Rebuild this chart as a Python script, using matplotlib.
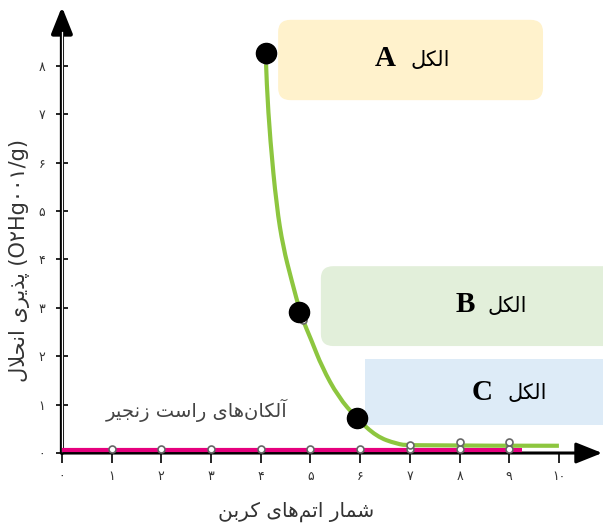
import matplotlib
matplotlib.use("Agg")
import matplotlib.pyplot as plt
from matplotlib.patches import FancyBboxPatch, PathPatch
from matplotlib.path import Path

plt.rcParams['font.family'] = ['DejaVu Sans']

# Persian text kept in presentation forms, visual (left-to-right) order
alcohol_word = "\uFEDE\uFB91\uFEDF\uFE8D"                      # الکل
alkane_label = ("\uFEAE\uFBFF\uFEA0\uFEE7\uFEAF" + " " +        # زنجیر
                "\uFE96\uFEB3\uFE8D\uFEAD" + " " +              # راست
                "\uFBFC\uFE8E\uFEEB\uFEE5\uFE8E\uFB91\uFEDF\uFE81")  # آلکان‌های
x_title = ("\uFEE6\uFE91\uFEAE\uFB90" + " " +                   # کربن
           "\uFBFC\uFE8E\uFEEB\uFEE2\uFE97\uFE8D" + " " +       # اتم‌های
           "\uFEAD\uFE8E\uFEE4\uFEB7")                          # شمار
y_title = ("\uFEDD\uFEFC\uFEA4\uFEE7\uFE8D" + " " +             # انحلال
           "\uFBFC\uFEAE\uFBFE\uFEAC\uFB58" + " " +             # پذیری
           "(O\u06F2Hg\u06F0\u06F0\u06F1/g)")

x_ticks = list(range(11))
x_tick_labels = ["\u06F0", "\u06F1", "\u06F2", "\u06F3", "\u06F4", "\u06F5",
                 "\u06F6", "\u06F7", "\u06F8", "\u06F9", "\u06F1\u06F0"]
y_ticks = list(range(9))
y_tick_labels = x_tick_labels[:9]

# straight chain alkanes (all near zero)
alkane_x = [1, 2, 3, 4, 5, 6, 7, 8, 9]
alkane_y = [0.08, 0.08, 0.08, 0.08, 0.08, 0.08, 0.08, 0.08, 0.08]
alkane_line_x = [0, 9.26]
alkane_line_y = [0.07, 0.07]

# alcohol data points (small open circles)
alcohol_x = [4.1, 4.85, 5.95, 7, 8, 9]
alcohol_y = [8.12, 2.75, 0.6, 0.17, 0.23, 0.23]

# green curve, read along its path
curve_x = [4.10, 4.12, 4.19, 4.32, 4.45, 4.62, 4.82, 5.02, 5.23, 5.56, 5.93, 6.33, 6.73, 7.0, 10.0]
curve_y = [8.22, 7.60, 6.47, 5.09, 4.26, 3.57, 2.81, 2.33, 1.78, 1.16, 0.72, 0.34, 0.19, 0.15, 0.15]

# highlighted alcohols A, B, C
marked_x = [4.11, 4.77, 5.94]
marked_y = [8.26, 2.92, 0.72]
marked_names = ["A", "B", "C"]

# label boxes
box_x0 = [4.35, 5.21, 6.10]
box_x1 = [9.68, 11.2, 11.2]
box_y0 = [7.29, 2.21, 0.58]
box_y1 = [8.95, 3.86, 1.94]
box_colors = ["#FFF2CC", "#E2EFDA", "#DDEBF7"]
box_round = [0.25, 0.25, 0.0]
letter_pos = [(6.5, 8.16), (8.11, 3.06), (8.45, 1.26)]
word_pos = [(7.41, 8.12), (8.97, 3.04), (9.36, 1.24)]


def smooth_path(xs, ys):
    # quadratic B-spline through the read points, drawn by matplotlib's Path
    pts = list(zip(xs, ys))
    verts = [pts[0]]
    codes = [Path.MOVETO]
    for i in range(1, len(pts) - 1):
        nxt = pts[i + 1] if i + 1 == len(pts) - 1 else (
            (pts[i][0] + pts[i + 1][0]) / 2, (pts[i][1] + pts[i + 1][1]) / 2)
        verts += [pts[i], nxt]
        codes += [Path.CURVE3, Path.CURVE3]
    return Path(verts, codes)


fig = plt.figure(figsize=(6.03, 5.27), dpi=100)
ax = fig.add_axes([52 / 603, (527 - 458) / 527, (603 - 52) / 603, (458 - 5) / 527])
ax.set_xlim(-0.2, 10.887)
ax.set_ylim(-0.103, 9.256)

for sp in ["top", "right"]:
    ax.spines[sp].set_visible(False)
for sp in ["left", "bottom"]:
    ax.spines[sp].set_position(("data", 0))
    ax.spines[sp].set_color("none")

for i in range(3):
    r = box_round[i]
    style = "round,pad=0,rounding_size=%g" % r if r > 0 else "square,pad=0"
    ax.add_patch(FancyBboxPatch((box_x0[i], box_y0[i]), box_x1[i] - box_x0[i],
                                box_y1[i] - box_y0[i], boxstyle=style,
                                facecolor=box_colors[i], edgecolor="none", zorder=1))
    ax.text(letter_pos[i][0], letter_pos[i][1], marked_names[i], family="Liberation Serif",
            fontweight="bold", fontsize=21, ha="center", va="center", zorder=3)
    ax.text(word_pos[i][0], word_pos[i][1], alcohol_word, fontsize=15,
            ha="center", va="center", zorder=3)

# axes with arrows
ax.annotate("", xy=(10.87, 0), xytext=(0, 0),
            arrowprops=dict(arrowstyle="-|>,head_length=1.0,head_width=0.4",
                            color="black", lw=2.2, mutation_scale=16,
                            shrinkA=0, shrinkB=0), zorder=4)
ax.annotate("", xy=(0, 9.22), xytext=(0, 0),
            arrowprops=dict(arrowstyle="-|>,head_length=1.0,head_width=0.4",
                            color="black", lw=3.0, mutation_scale=16,
                            shrinkA=0, shrinkB=0), zorder=4)
ax.plot([0, 0], [0.05, 8.7], color="white", lw=0.9, zorder=5)

ax.plot(alkane_line_x, alkane_line_y, color="#E6007E", lw=3.0, zorder=5,
        solid_capstyle="butt")
ax.add_patch(PathPatch(smooth_path(curve_x, curve_y), facecolor="none",
                       edgecolor="#8DC63F", lw=3.0, capstyle="butt", zorder=5))
ax.plot(alkane_x, alkane_y, "o", ms=5, mfc="white", mec="#666666", mew=1.2, zorder=6)
ax.plot(alcohol_x, alcohol_y, "o", ms=5, mfc="white", mec="#666666", mew=1.2, zorder=6)
ax.plot(marked_x, marked_y, "o", ms=14.5, color="black", zorder=7)

ax.set_xticks(x_ticks)
ax.set_xticklabels(x_tick_labels)
ax.set_yticks(y_ticks)
ax.set_yticklabels(y_tick_labels)
ax.tick_params(axis="x", direction="out", length=7, width=1.2, pad=5,
               labelsize=9, labelcolor="#333333")
ax.tick_params(axis="y", direction="inout", length=8, width=1.2, pad=8,
               labelsize=9, labelcolor="#333333")

ax.text(2.72, 0.89, alkane_label, fontsize=14, color="#444444",
        ha="center", va="center", zorder=3)

fig.text(296 / 603, 1 - 512 / 527, x_title, fontsize=14.5, color="#333333",
         ha="center", va="center")
fig.text(20 / 603, 1 - 260 / 527, y_title, fontsize=15, color="#333333",
         rotation=90, ha="center", va="center")

fig.savefig("out.png", dpi=100)
